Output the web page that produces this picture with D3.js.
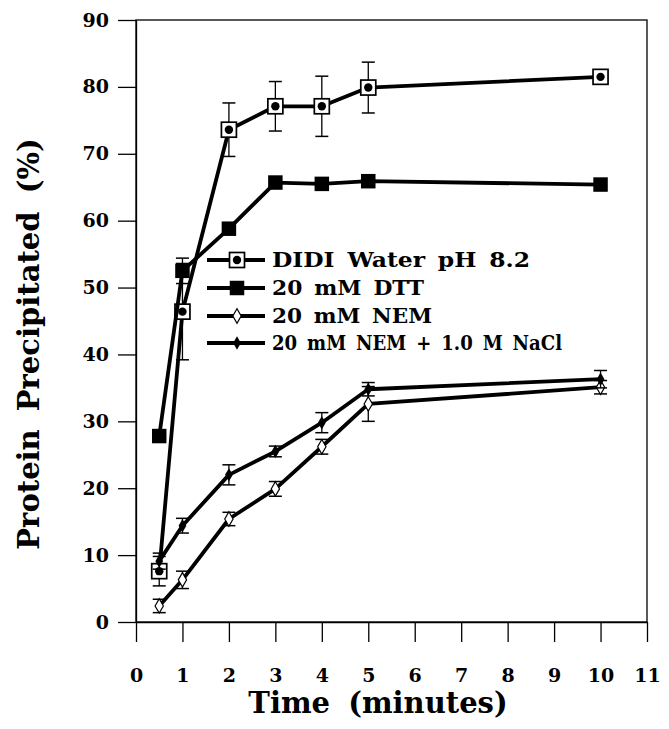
<!DOCTYPE html>
<html>
<head>
<meta charset="utf-8">
<script src="https://cdn.jsdelivr.net/npm/d3@7"></script>
<style>
  body { margin: 0; background: #fff; }
  svg text { font-family: "DejaVu Serif", "Liberation Serif", serif; font-weight: bold; fill: #000; }
</style>
</head>
<body>
<svg width="669" height="729"></svg>
<script>
// time points (minutes)
var times = [0.5, 1, 2, 3, 4, 5, 10];

// % protein precipitated, with error bar half-widths
var didiVals = [7.6, 46.4, 73.6, 77.1, 77.1, 79.9, 81.5];
var didiErr  = [2.2, 7.2, 4.0, 3.7, 4.5, 3.8, 0];
var dttVals  = [27.8, 52.5, 58.8, 65.7, 65.5, 65.9, 65.4];
var dttErr   = [0, 1.9, 0, 0, 0, 0, 0];
var nemVals  = [2.4, 6.3, 15.4, 19.9, 26.2, 32.6, 35.1];
var nemErr   = [1.0, 1.3, 1.0, 1.1, 1.1, 2.6, 1.0];
var naclVals = [9.1, 14.4, 22.0, 25.5, 29.8, 34.8, 36.3];
var naclErr  = [1.2, 1.1, 1.5, 0.8, 1.5, 1.0, 1.3];

var seriesNames = ["DIDI Water pH 8.2", "20 mM DTT", "20 mM NEM", "20 mM NEM + 1.0 M NaCl"];
var xTicks = d3.range(0, 12);
var yTicks = d3.range(0, 100, 10);

var svg = d3.select("svg");
var margin = { top: 20, right: 22, bottom: 107, left: 136 },
  width = +svg.attr("width"),
  height = +svg.attr("height");

var x = d3.scaleLinear().domain([0, 11]).range([margin.left, width - margin.right]);
var y = d3.scaleLinear().domain([0, 90]).range([height - margin.bottom, margin.top]);

var series = [
  { name: seriesNames[0], vals: didiVals, err: didiErr, mark: "dotSquare" },
  { name: seriesNames[1], vals: dttVals, err: dttErr, mark: "square" },
  { name: seriesNames[2], vals: nemVals, err: nemErr, mark: "openDiamond" },
  { name: seriesNames[3], vals: naclVals, err: naclErr, mark: "diamond" }
];

// frame
svg.append("rect")
  .attr("x", x(0)).attr("y", y(90))
  .attr("width", x(11) - x(0)).attr("height", y(0) - y(90))
  .attr("fill", "none").attr("stroke", "#000").attr("stroke-width", 1.3);

// axes
var xAxis = svg.append("g")
  .attr("transform", "translate(0," + y(0) + ")")
  .call(d3.axisBottom(x).tickValues(xTicks).tickSize(20).tickPadding(27).tickSizeOuter(0));
var yAxis = svg.append("g")
  .attr("transform", "translate(" + x(0) + ",0)")
  .call(d3.axisLeft(y).tickValues(yTicks).tickSize(18).tickPadding(9).tickSizeOuter(0));

[xAxis, yAxis].forEach(function (a) {
  a.select(".domain").attr("stroke-width", 1.3);
  a.selectAll(".tick line").attr("stroke-width", 1.3);
  a.selectAll(".tick text")
    .style("font-family", "DejaVu Serif, serif")
    .style("font-weight", "bold")
    .style("font-size", "19px");
});

// axis titles
svg.append("text")
  .attr("x", 378).attr("y", 713)
  .attr("text-anchor", "middle")
  .style("font-size", "29px")
  .style("word-spacing", "8px")
  .text("Time (minutes)");

svg.append("text")
  .attr("transform", "translate(39,344) rotate(-90)")
  .attr("text-anchor", "middle")
  .style("font-size", "29px")
  .style("word-spacing", "8px")
  .text("Protein Precipitated (%)");

function drawMarker(g, kind, cx, cy) {
  if (kind === "dotSquare") {
    g.append("rect").attr("x", cx - 7.5).attr("y", cy - 7.5).attr("width", 15).attr("height", 15)
      .attr("fill", "#fff").attr("stroke", "#000").attr("stroke-width", 1.7);
    g.append("circle").attr("cx", cx).attr("cy", cy).attr("r", 4.2).attr("fill", "#000");
  } else if (kind === "square") {
    g.append("path").attr("d", d3.symbol(d3.symbolSquare, 210)())
      .attr("transform", "translate(" + cx + "," + cy + ")").attr("fill", "#000");
  } else if (kind === "openDiamond") {
    g.append("path").attr("d", d3.symbol(d3.symbolDiamond, 60)())
      .attr("transform", "translate(" + cx + "," + cy + ")")
      .attr("fill", "#fff").attr("stroke", "#000").attr("stroke-width", 1.2);
  } else {
    g.append("path").attr("d", d3.symbol(d3.symbolDiamond, 52)())
      .attr("transform", "translate(" + cx + "," + cy + ")").attr("fill", "#000");
  }
}

var line = d3.line()
  .x(function (d) { return x(d.t); })
  .y(function (d) { return y(d.v); });

series.forEach(function (s) {
  var pts = times.map(function (t, i) { return { t: t, v: s.vals[i], e: s.err[i] }; });
  var g = svg.append("g");

  g.append("path").datum(pts)
    .attr("d", line)
    .attr("fill", "none").attr("stroke", "#000").attr("stroke-width", 3.8)
    .attr("stroke-linejoin", "round");

  // error bars
  pts.filter(function (d) { return d.e > 0; }).forEach(function (d) {
    var cx = x(d.t), y1 = y(d.v + d.e), y2 = y(d.v - d.e);
    g.append("line").attr("x1", cx).attr("x2", cx).attr("y1", y1).attr("y2", y2)
      .attr("stroke", "#000").attr("stroke-width", 1.3);
    [y1, y2].forEach(function (yy) {
      g.append("line").attr("x1", cx - 6.5).attr("x2", cx + 6.5).attr("y1", yy).attr("y2", yy)
        .attr("stroke", "#000").attr("stroke-width", 1.5);
    });
  });

  pts.forEach(function (d) { drawMarker(g, s.mark, x(d.t), y(d.v)); });
});

// legend (text widths matched to the printed legend)
var legY = [260, 288, 316, 343];
var legW = [258, 152, 160, 290];
var legend = svg.append("g");
series.forEach(function (s, i) {
  legend.append("line").attr("x1", 207).attr("x2", 265).attr("y1", legY[i]).attr("y2", legY[i])
    .attr("stroke", "#000").attr("stroke-width", 3.8);
  drawMarker(legend, s.mark, 237, legY[i]);
  legend.append("text")
    .attr("x", 272).attr("y", legY[i] + 7)
    .attr("textLength", legW[i])
    .attr("lengthAdjust", "spacingAndGlyphs")
    .style("font-size", "20px")
    .style("word-spacing", "4px")
    .text(s.name);
});
</script>
</body>
</html>
